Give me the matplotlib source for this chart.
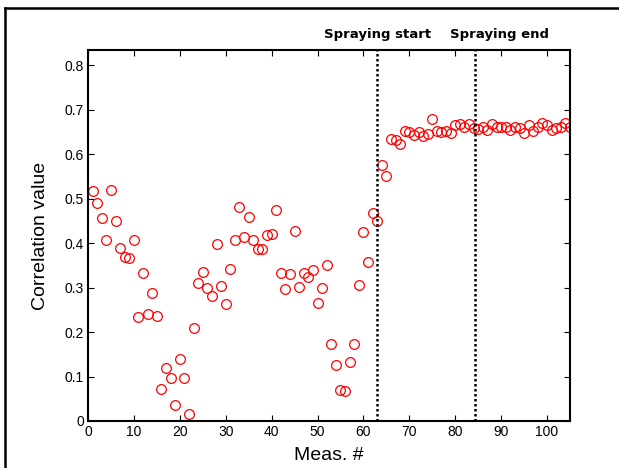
import numpy as np
import matplotlib
matplotlib.use("Agg")
import matplotlib.pyplot as plt
from matplotlib.lines import Line2D

meas = np.arange(1, 106)
corr = [
    0.518, 0.491, 0.456, 0.406, 0.520, 0.449, 0.389, 0.369, 0.366, 0.408,
    0.234, 0.332, 0.241, 0.287, 0.236, 0.072, 0.119, 0.096, 0.036, 0.139,
    0.096, 0.015, 0.209, 0.310, 0.335, 0.298, 0.280, 0.397, 0.303, 0.264,
    0.342, 0.407, 0.480, 0.414, 0.459, 0.407, 0.387, 0.387, 0.419, 0.421,
    0.474, 0.332, 0.296, 0.330, 0.426, 0.301, 0.332, 0.324, 0.340, 0.266,
    0.300, 0.350, 0.174, 0.126, 0.070, 0.068, 0.132, 0.174, 0.305, 0.424,
    0.357, 0.467, 0.449, 0.575, 0.551, 0.634, 0.631, 0.623, 0.652, 0.650,
    0.643, 0.649, 0.640, 0.646, 0.680, 0.652, 0.650, 0.652, 0.647, 0.665,
    0.667, 0.662, 0.667, 0.658, 0.656, 0.662, 0.655, 0.667, 0.660, 0.660,
    0.660, 0.655, 0.660, 0.658, 0.648, 0.665, 0.652, 0.660, 0.670, 0.665,
    0.655, 0.658, 0.662, 0.670, 0.660,
]
events = [62.9, 84.4]
event_labels = ["Spraying start", "Spraying end"]
xticks = list(range(0, 101, 10))
yticks = [0, 0.1, 0.2, 0.3, 0.4, 0.5, 0.6, 0.7, 0.8]
ytick_labels = ["0", "0.1", "0.2", "0.3", "0.4", "0.5", "0.6", "0.7", "0.8"]

fig = plt.figure(figsize=(6.19, 4.68), dpi=100)
ax = fig.add_axes([88/619, 1-421/468, (570-88)/619, (421-50)/468])

ax.plot(meas, corr, linestyle="none", marker="o", markersize=7,
        markerfacecolor="none", markeredgecolor="red", markeredgewidth=0.9)

for xv in events:
    ax.axvline(xv, color="black", linestyle=(0, (1, 1)), linewidth=1.8)

ax.set_xlim(0, 105)
ax.set_ylim(0, 0.834)
ax.set_xticks(xticks)
ax.set_yticks(yticks)
ax.set_yticklabels(ytick_labels)
ax.tick_params(direction="in", top=True, right=True, length=4, width=0.8,
               labelsize=10, pad=3)
for lab in ax.get_xticklabels() + ax.get_yticklabels():
    lab.set_family("Liberation Sans")
for s in ax.spines.values():
    s.set_linewidth(1.5)

ax.set_xlabel("Meas. #", fontsize=14, family="Liberation Sans", labelpad=6)
ax.set_ylabel("Correlation value", fontsize=14, family="Liberation Sans", labelpad=11)

ax.text(events[0] + 0.2, 1.025, event_labels[0], transform=ax.get_xaxis_transform(),
        ha="center", va="bottom", fontsize=9.5, fontweight="bold", family="DejaVu Sans")
ax.text(78.9, 1.025, event_labels[1], transform=ax.get_xaxis_transform(),
        ha="left", va="bottom", fontsize=9.5, fontweight="bold", family="DejaVu Sans")

# outer frame (top and left edges)
fig.add_artist(Line2D([5/619, 1.0], [1-8/468, 1-8/468], transform=fig.transFigure,
                      color="black", linewidth=1.8))
fig.add_artist(Line2D([5/619, 5/619], [0.0, 1-8/468], transform=fig.transFigure,
                      color="black", linewidth=1.8))

fig.savefig("out.png", dpi=100)
